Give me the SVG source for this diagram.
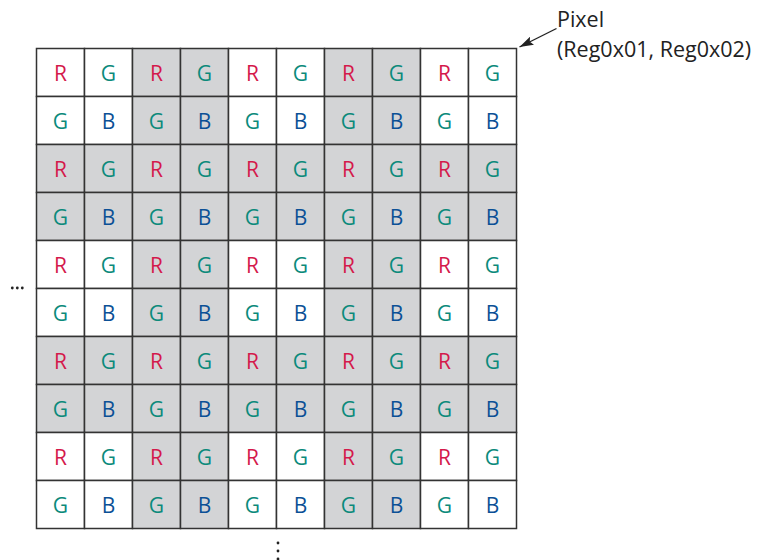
<svg xmlns="http://www.w3.org/2000/svg" width="762" height="560" viewBox="0 0 762 560">
<style>
.c{stroke:#333;stroke-width:1.5}
.w{fill:#fff}
.s{fill:#d3d4d6}
text{font-family:"Open Sans","Noto Sans","Liberation Sans",sans-serif;font-size:21px;text-anchor:middle}
.R{fill:#d4194b}
.G{fill:#0b8a7b}
.B{fill:#0b5096}
.lbl{font-size:21.5px;text-anchor:start;fill:#222}
</style>
<defs>
<marker id="ah" viewBox="0 0 14 9" refX="14" refY="4.5" markerWidth="14" markerHeight="9" markerUnits="userSpaceOnUse" orient="auto"><path d="M0,0 L14,4.5 L0,9 L2.5,4.5 z" fill="#222"/></marker>
</defs>
<g id="grid">
<g id="r0">
<g id="c0_0"><rect class="c w" x="36.5" y="48.5" width="48" height="48"/><text class="R" x="60.5" y="80.5">R</text></g>
<g id="c0_1"><rect class="c w" x="84.5" y="48.5" width="48" height="48"/><text class="G" x="108.5" y="80.5">G</text></g>
<g id="c0_2"><rect class="c s" x="132.5" y="48.5" width="48" height="48"/><text class="R" x="156.5" y="80.5">R</text></g>
<g id="c0_3"><rect class="c s" x="180.5" y="48.5" width="48" height="48"/><text class="G" x="204.5" y="80.5">G</text></g>
<g id="c0_4"><rect class="c w" x="228.5" y="48.5" width="48" height="48"/><text class="R" x="252.5" y="80.5">R</text></g>
<g id="c0_5"><rect class="c w" x="276.5" y="48.5" width="48" height="48"/><text class="G" x="300.5" y="80.5">G</text></g>
<g id="c0_6"><rect class="c s" x="324.5" y="48.5" width="48" height="48"/><text class="R" x="348.5" y="80.5">R</text></g>
<g id="c0_7"><rect class="c s" x="372.5" y="48.5" width="48" height="48"/><text class="G" x="396.5" y="80.5">G</text></g>
<g id="c0_8"><rect class="c w" x="420.5" y="48.5" width="48" height="48"/><text class="R" x="444.5" y="80.5">R</text></g>
<g id="c0_9"><rect class="c w" x="468.5" y="48.5" width="48" height="48"/><text class="G" x="492.5" y="80.5">G</text></g>
</g>
<g id="r1">
<g id="c1_0"><rect class="c w" x="36.5" y="96.5" width="48" height="48"/><text class="G" x="60.5" y="128.5">G</text></g>
<g id="c1_1"><rect class="c w" x="84.5" y="96.5" width="48" height="48"/><text class="B" x="108.5" y="128.5">B</text></g>
<g id="c1_2"><rect class="c s" x="132.5" y="96.5" width="48" height="48"/><text class="G" x="156.5" y="128.5">G</text></g>
<g id="c1_3"><rect class="c s" x="180.5" y="96.5" width="48" height="48"/><text class="B" x="204.5" y="128.5">B</text></g>
<g id="c1_4"><rect class="c w" x="228.5" y="96.5" width="48" height="48"/><text class="G" x="252.5" y="128.5">G</text></g>
<g id="c1_5"><rect class="c w" x="276.5" y="96.5" width="48" height="48"/><text class="B" x="300.5" y="128.5">B</text></g>
<g id="c1_6"><rect class="c s" x="324.5" y="96.5" width="48" height="48"/><text class="G" x="348.5" y="128.5">G</text></g>
<g id="c1_7"><rect class="c s" x="372.5" y="96.5" width="48" height="48"/><text class="B" x="396.5" y="128.5">B</text></g>
<g id="c1_8"><rect class="c w" x="420.5" y="96.5" width="48" height="48"/><text class="G" x="444.5" y="128.5">G</text></g>
<g id="c1_9"><rect class="c w" x="468.5" y="96.5" width="48" height="48"/><text class="B" x="492.5" y="128.5">B</text></g>
</g>
<g id="r2">
<g id="c2_0"><rect class="c s" x="36.5" y="144.5" width="48" height="48"/><text class="R" x="60.5" y="176.5">R</text></g>
<g id="c2_1"><rect class="c s" x="84.5" y="144.5" width="48" height="48"/><text class="G" x="108.5" y="176.5">G</text></g>
<g id="c2_2"><rect class="c s" x="132.5" y="144.5" width="48" height="48"/><text class="R" x="156.5" y="176.5">R</text></g>
<g id="c2_3"><rect class="c s" x="180.5" y="144.5" width="48" height="48"/><text class="G" x="204.5" y="176.5">G</text></g>
<g id="c2_4"><rect class="c s" x="228.5" y="144.5" width="48" height="48"/><text class="R" x="252.5" y="176.5">R</text></g>
<g id="c2_5"><rect class="c s" x="276.5" y="144.5" width="48" height="48"/><text class="G" x="300.5" y="176.5">G</text></g>
<g id="c2_6"><rect class="c s" x="324.5" y="144.5" width="48" height="48"/><text class="R" x="348.5" y="176.5">R</text></g>
<g id="c2_7"><rect class="c s" x="372.5" y="144.5" width="48" height="48"/><text class="G" x="396.5" y="176.5">G</text></g>
<g id="c2_8"><rect class="c s" x="420.5" y="144.5" width="48" height="48"/><text class="R" x="444.5" y="176.5">R</text></g>
<g id="c2_9"><rect class="c s" x="468.5" y="144.5" width="48" height="48"/><text class="G" x="492.5" y="176.5">G</text></g>
</g>
<g id="r3">
<g id="c3_0"><rect class="c s" x="36.5" y="192.5" width="48" height="48"/><text class="G" x="60.5" y="224.5">G</text></g>
<g id="c3_1"><rect class="c s" x="84.5" y="192.5" width="48" height="48"/><text class="B" x="108.5" y="224.5">B</text></g>
<g id="c3_2"><rect class="c s" x="132.5" y="192.5" width="48" height="48"/><text class="G" x="156.5" y="224.5">G</text></g>
<g id="c3_3"><rect class="c s" x="180.5" y="192.5" width="48" height="48"/><text class="B" x="204.5" y="224.5">B</text></g>
<g id="c3_4"><rect class="c s" x="228.5" y="192.5" width="48" height="48"/><text class="G" x="252.5" y="224.5">G</text></g>
<g id="c3_5"><rect class="c s" x="276.5" y="192.5" width="48" height="48"/><text class="B" x="300.5" y="224.5">B</text></g>
<g id="c3_6"><rect class="c s" x="324.5" y="192.5" width="48" height="48"/><text class="G" x="348.5" y="224.5">G</text></g>
<g id="c3_7"><rect class="c s" x="372.5" y="192.5" width="48" height="48"/><text class="B" x="396.5" y="224.5">B</text></g>
<g id="c3_8"><rect class="c s" x="420.5" y="192.5" width="48" height="48"/><text class="G" x="444.5" y="224.5">G</text></g>
<g id="c3_9"><rect class="c s" x="468.5" y="192.5" width="48" height="48"/><text class="B" x="492.5" y="224.5">B</text></g>
</g>
<g id="r4">
<g id="c4_0"><rect class="c w" x="36.5" y="240.5" width="48" height="48"/><text class="R" x="60.5" y="272.5">R</text></g>
<g id="c4_1"><rect class="c w" x="84.5" y="240.5" width="48" height="48"/><text class="G" x="108.5" y="272.5">G</text></g>
<g id="c4_2"><rect class="c s" x="132.5" y="240.5" width="48" height="48"/><text class="R" x="156.5" y="272.5">R</text></g>
<g id="c4_3"><rect class="c s" x="180.5" y="240.5" width="48" height="48"/><text class="G" x="204.5" y="272.5">G</text></g>
<g id="c4_4"><rect class="c w" x="228.5" y="240.5" width="48" height="48"/><text class="R" x="252.5" y="272.5">R</text></g>
<g id="c4_5"><rect class="c w" x="276.5" y="240.5" width="48" height="48"/><text class="G" x="300.5" y="272.5">G</text></g>
<g id="c4_6"><rect class="c s" x="324.5" y="240.5" width="48" height="48"/><text class="R" x="348.5" y="272.5">R</text></g>
<g id="c4_7"><rect class="c s" x="372.5" y="240.5" width="48" height="48"/><text class="G" x="396.5" y="272.5">G</text></g>
<g id="c4_8"><rect class="c w" x="420.5" y="240.5" width="48" height="48"/><text class="R" x="444.5" y="272.5">R</text></g>
<g id="c4_9"><rect class="c w" x="468.5" y="240.5" width="48" height="48"/><text class="G" x="492.5" y="272.5">G</text></g>
</g>
<g id="r5">
<g id="c5_0"><rect class="c w" x="36.5" y="288.5" width="48" height="48"/><text class="G" x="60.5" y="320.5">G</text></g>
<g id="c5_1"><rect class="c w" x="84.5" y="288.5" width="48" height="48"/><text class="B" x="108.5" y="320.5">B</text></g>
<g id="c5_2"><rect class="c s" x="132.5" y="288.5" width="48" height="48"/><text class="G" x="156.5" y="320.5">G</text></g>
<g id="c5_3"><rect class="c s" x="180.5" y="288.5" width="48" height="48"/><text class="B" x="204.5" y="320.5">B</text></g>
<g id="c5_4"><rect class="c w" x="228.5" y="288.5" width="48" height="48"/><text class="G" x="252.5" y="320.5">G</text></g>
<g id="c5_5"><rect class="c w" x="276.5" y="288.5" width="48" height="48"/><text class="B" x="300.5" y="320.5">B</text></g>
<g id="c5_6"><rect class="c s" x="324.5" y="288.5" width="48" height="48"/><text class="G" x="348.5" y="320.5">G</text></g>
<g id="c5_7"><rect class="c s" x="372.5" y="288.5" width="48" height="48"/><text class="B" x="396.5" y="320.5">B</text></g>
<g id="c5_8"><rect class="c w" x="420.5" y="288.5" width="48" height="48"/><text class="G" x="444.5" y="320.5">G</text></g>
<g id="c5_9"><rect class="c w" x="468.5" y="288.5" width="48" height="48"/><text class="B" x="492.5" y="320.5">B</text></g>
</g>
<g id="r6">
<g id="c6_0"><rect class="c s" x="36.5" y="336.5" width="48" height="48"/><text class="R" x="60.5" y="368.5">R</text></g>
<g id="c6_1"><rect class="c s" x="84.5" y="336.5" width="48" height="48"/><text class="G" x="108.5" y="368.5">G</text></g>
<g id="c6_2"><rect class="c s" x="132.5" y="336.5" width="48" height="48"/><text class="R" x="156.5" y="368.5">R</text></g>
<g id="c6_3"><rect class="c s" x="180.5" y="336.5" width="48" height="48"/><text class="G" x="204.5" y="368.5">G</text></g>
<g id="c6_4"><rect class="c s" x="228.5" y="336.5" width="48" height="48"/><text class="R" x="252.5" y="368.5">R</text></g>
<g id="c6_5"><rect class="c s" x="276.5" y="336.5" width="48" height="48"/><text class="G" x="300.5" y="368.5">G</text></g>
<g id="c6_6"><rect class="c s" x="324.5" y="336.5" width="48" height="48"/><text class="R" x="348.5" y="368.5">R</text></g>
<g id="c6_7"><rect class="c s" x="372.5" y="336.5" width="48" height="48"/><text class="G" x="396.5" y="368.5">G</text></g>
<g id="c6_8"><rect class="c s" x="420.5" y="336.5" width="48" height="48"/><text class="R" x="444.5" y="368.5">R</text></g>
<g id="c6_9"><rect class="c s" x="468.5" y="336.5" width="48" height="48"/><text class="G" x="492.5" y="368.5">G</text></g>
</g>
<g id="r7">
<g id="c7_0"><rect class="c s" x="36.5" y="384.5" width="48" height="48"/><text class="G" x="60.5" y="416.5">G</text></g>
<g id="c7_1"><rect class="c s" x="84.5" y="384.5" width="48" height="48"/><text class="B" x="108.5" y="416.5">B</text></g>
<g id="c7_2"><rect class="c s" x="132.5" y="384.5" width="48" height="48"/><text class="G" x="156.5" y="416.5">G</text></g>
<g id="c7_3"><rect class="c s" x="180.5" y="384.5" width="48" height="48"/><text class="B" x="204.5" y="416.5">B</text></g>
<g id="c7_4"><rect class="c s" x="228.5" y="384.5" width="48" height="48"/><text class="G" x="252.5" y="416.5">G</text></g>
<g id="c7_5"><rect class="c s" x="276.5" y="384.5" width="48" height="48"/><text class="B" x="300.5" y="416.5">B</text></g>
<g id="c7_6"><rect class="c s" x="324.5" y="384.5" width="48" height="48"/><text class="G" x="348.5" y="416.5">G</text></g>
<g id="c7_7"><rect class="c s" x="372.5" y="384.5" width="48" height="48"/><text class="B" x="396.5" y="416.5">B</text></g>
<g id="c7_8"><rect class="c s" x="420.5" y="384.5" width="48" height="48"/><text class="G" x="444.5" y="416.5">G</text></g>
<g id="c7_9"><rect class="c s" x="468.5" y="384.5" width="48" height="48"/><text class="B" x="492.5" y="416.5">B</text></g>
</g>
<g id="r8">
<g id="c8_0"><rect class="c w" x="36.5" y="432.5" width="48" height="48"/><text class="R" x="60.5" y="464.5">R</text></g>
<g id="c8_1"><rect class="c w" x="84.5" y="432.5" width="48" height="48"/><text class="G" x="108.5" y="464.5">G</text></g>
<g id="c8_2"><rect class="c s" x="132.5" y="432.5" width="48" height="48"/><text class="R" x="156.5" y="464.5">R</text></g>
<g id="c8_3"><rect class="c s" x="180.5" y="432.5" width="48" height="48"/><text class="G" x="204.5" y="464.5">G</text></g>
<g id="c8_4"><rect class="c w" x="228.5" y="432.5" width="48" height="48"/><text class="R" x="252.5" y="464.5">R</text></g>
<g id="c8_5"><rect class="c w" x="276.5" y="432.5" width="48" height="48"/><text class="G" x="300.5" y="464.5">G</text></g>
<g id="c8_6"><rect class="c s" x="324.5" y="432.5" width="48" height="48"/><text class="R" x="348.5" y="464.5">R</text></g>
<g id="c8_7"><rect class="c s" x="372.5" y="432.5" width="48" height="48"/><text class="G" x="396.5" y="464.5">G</text></g>
<g id="c8_8"><rect class="c w" x="420.5" y="432.5" width="48" height="48"/><text class="R" x="444.5" y="464.5">R</text></g>
<g id="c8_9"><rect class="c w" x="468.5" y="432.5" width="48" height="48"/><text class="G" x="492.5" y="464.5">G</text></g>
</g>
<g id="r9">
<g id="c9_0"><rect class="c w" x="36.5" y="480.5" width="48" height="48"/><text class="G" x="60.5" y="512.5">G</text></g>
<g id="c9_1"><rect class="c w" x="84.5" y="480.5" width="48" height="48"/><text class="B" x="108.5" y="512.5">B</text></g>
<g id="c9_2"><rect class="c s" x="132.5" y="480.5" width="48" height="48"/><text class="G" x="156.5" y="512.5">G</text></g>
<g id="c9_3"><rect class="c s" x="180.5" y="480.5" width="48" height="48"/><text class="B" x="204.5" y="512.5">B</text></g>
<g id="c9_4"><rect class="c w" x="228.5" y="480.5" width="48" height="48"/><text class="G" x="252.5" y="512.5">G</text></g>
<g id="c9_5"><rect class="c w" x="276.5" y="480.5" width="48" height="48"/><text class="B" x="300.5" y="512.5">B</text></g>
<g id="c9_6"><rect class="c s" x="324.5" y="480.5" width="48" height="48"/><text class="G" x="348.5" y="512.5">G</text></g>
<g id="c9_7"><rect class="c s" x="372.5" y="480.5" width="48" height="48"/><text class="B" x="396.5" y="512.5">B</text></g>
<g id="c9_8"><rect class="c w" x="420.5" y="480.5" width="48" height="48"/><text class="G" x="444.5" y="512.5">G</text></g>
<g id="c9_9"><rect class="c w" x="468.5" y="480.5" width="48" height="48"/><text class="B" x="492.5" y="512.5">B</text></g>
</g>
</g>
<g id="pixel-label">
<text class="lbl" x="557" y="27">Pixel</text>
<text class="lbl" x="557" y="57">(Reg0x01, Reg0x02)</text>
</g>
<g id="connectors">
<line x1="556.5" y1="28.5" x2="519.5" y2="47" stroke="#222" stroke-width="1.3" marker-end="url(#ah)"/>
</g>
<g id="ellipses" fill="#222">
<circle cx="12.3" cy="288" r="1.4"/><circle cx="17.3" cy="288" r="1.4"/><circle cx="22.3" cy="288" r="1.4"/>
<circle cx="278" cy="543" r="1.4"/><circle cx="278" cy="551" r="1.4"/><circle cx="278" cy="559" r="1.4"/>
</g>
</svg>
